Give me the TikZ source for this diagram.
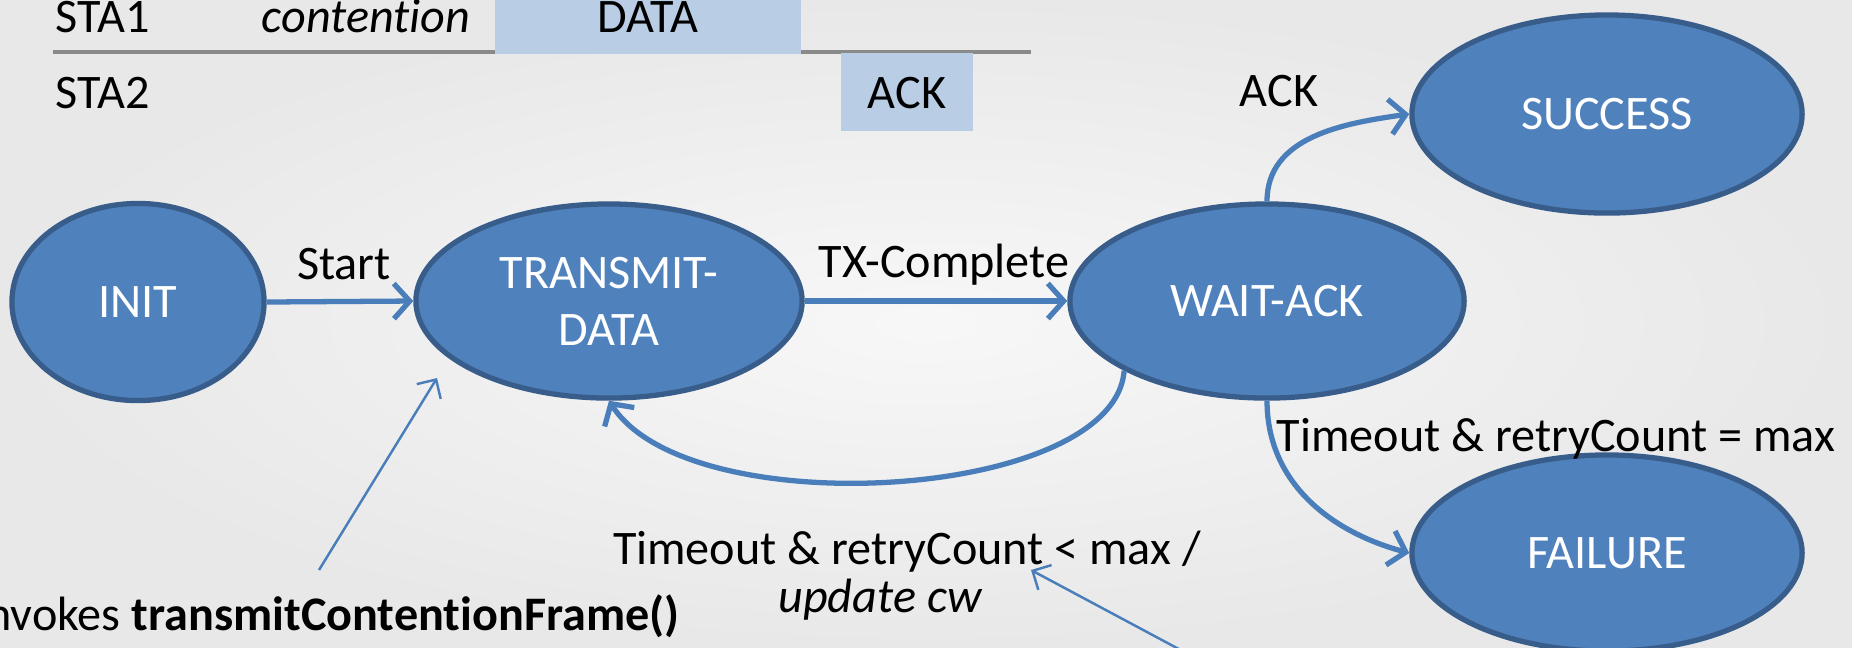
\documentclass[tikz,border=0pt]{standalone}
\usepackage{fontspec}
\setmainfont{Carlito}[Ligatures=NoCommon]
\usetikzlibrary{shapes.geometric,arrows.meta}
\definecolor{stfill}{HTML}{4F81BD}
\definecolor{stborder}{HTML}{385D8A}
\definecolor{flow}{HTML}{4A7EBB}
\definecolor{slot}{HTML}{B9CDE5}
\definecolor{rule}{HTML}{8A8A8A}
\tikzset{
  state/.style={ellipse, draw=stborder, fill=stfill, line width=1.5pt,
    text=white, inner sep=0pt, align=center},
  trans/.style={draw=flow, line width=1.5pt,
    -{Straight Barb[length=4.5pt,width=10pt,line width=1.5pt]}},
  note/.style={draw=flow, line width=0.7pt,
    -{Straight Barb[length=4pt,width=8pt,line width=0.7pt]}},
  lbl/.style={text=black, inner sep=0pt},
  slotbox/.style={fill=slot, draw=none}
}
\begin{document}
\begin{tikzpicture}[x=0.01cm, y=-0.01cm, font=\fontsize{13.7}{16.2}\selectfont]
  % canvas
  \useasboundingbox (0,0) rectangle (1852,647);
  \shade[inner color=white!97!black, outer color=black!9] (0,0) rectangle (1852,647);

  % frame exchange timeline
  \draw[rule, line width=0.9pt] (53,52) -- (1031,52);
  \path[slotbox] (495,-10) rectangle (801,54);
  \path[slotbox] (841,53) rectangle (973,131);
  \node[lbl, anchor=base west] (sta1) at (55,32) {STA1};
  \node[lbl, anchor=base west] (sta2) at (55,108) {STA2};
  \node[lbl, anchor=base] (cont) at (366,32) {\itshape contention};
  \node[lbl, anchor=base] (data) at (648,32) {DATA};
  \node[lbl, anchor=base] (ack) at (907,108) {ACK};

  % states
  \node[state, minimum width=2.52cm, minimum height=1.97cm] (init) at (138,302) {INIT};
  \node[state, minimum width=3.86cm, minimum height=1.94cm] (td) at (609,301) {TRANSMIT-\\DATA};
  \node[state, minimum width=3.94cm, minimum height=1.94cm] (wa) at (1267,301) {WAIT-ACK};
  \node[state, minimum width=3.90cm, minimum height=1.98cm] (succ) at (1607,114) {SUCCESS};
  \node[state, minimum width=3.90cm, minimum height=1.96cm] (fail) at (1607,553) {FAILURE};

  % transitions
  \draw[trans] (init.east) -- (td.west);
  \draw[trans] (td.east) -- (wa.west);
  \draw[trans] (wa.north) to[out=90, in=188] (succ.west);
  \draw[trans] (wa.south) to[out=-90, in=165] (fail.west);
  \draw[trans] (wa.-154) .. controls +(-10,130) and +(80,125) .. (td.south);

  % transition labels
  \node[lbl, anchor=base] (lstart) at (344,279) {Start};
  \node[lbl, anchor=base] (ltx) at (944,277) {TX-Complete};
  \node[lbl, anchor=base] (lack) at (1279,106) {ACK};
  \node[lbl, anchor=base] (lmax) at (1556,451) {Timeout \& retryCount = max};
  \node[lbl, anchor=base] (lretry) at (907,564) {Timeout \& retryCount < max /};
  \node[lbl, anchor=base] (lcw) at (880,612) {\itshape update cw};
  \node[lbl, anchor=base east] (linv) at (680,630) {Invokes \textbf{transmitContentionFrame()}};

  % annotation pointers
  \coordinate (invtail) at (319,570);
  \coordinate (invtip) at (437,378);
  \coordinate (cwtail) at (1190,655);
  \coordinate (cwtip) at (1031,570);
  \draw[note] (invtail) -- (invtip);
  \draw[note] (cwtail) -- (cwtip);
\end{tikzpicture}
\end{document}
